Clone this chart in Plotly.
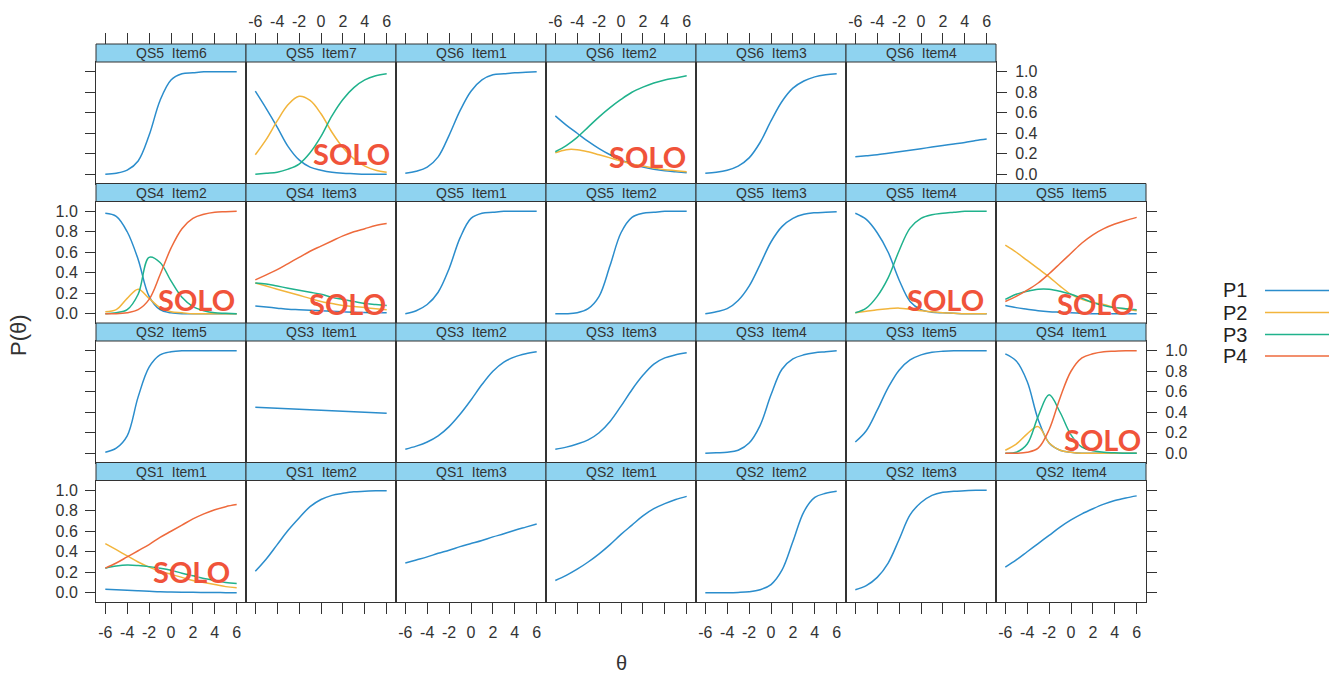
import plotly.graph_objects as go

# ---- item trace lines: probability of each category over theta ----
theta = [-6, -5, -4, -3, -2, -1, 0, 1, 2, 3, 4, 5, 6]
x_ticks = [-6, -4, -2, 0, 2, 4, 6]
x_tick_text = ["-6", "-4", "-2", "0", "2", "4", "6"]
y_ticks = [0.0, 0.2, 0.4, 0.6, 0.8, 1.0]
y_tick_text = ["0.0", "0.2", "0.4", "0.6", "0.8", "1.0"]
categories = ["P1", "P2", "P3", "P4"]

# row 1
qs5_item6 = [0.0, 0.01, 0.04, 0.13, 0.38, 0.72, 0.92, 0.98, 0.99, 1.0, 1.0, 1.0, 1.0]
qs5_item7_p1 = [0.81, 0.64, 0.46, 0.27, 0.14, 0.07, 0.04, 0.02, 0.01, 0.005, 0.0, 0.0, 0.0]
qs5_item7_p2 = [0.19, 0.34, 0.52, 0.68, 0.76, 0.72, 0.59, 0.41, 0.26, 0.15, 0.08, 0.04, 0.02]
qs5_item7_p3 = [0.0, 0.01, 0.02, 0.05, 0.10, 0.21, 0.37, 0.57, 0.73, 0.845, 0.92, 0.96, 0.98]
qs6_item1 = [0.01, 0.03, 0.07, 0.17, 0.38, 0.62, 0.81, 0.92, 0.97, 0.98, 0.99, 0.995, 1.0]
qs6_item2_p1 = [0.57, 0.48, 0.40, 0.32, 0.25, 0.19, 0.14, 0.10, 0.07, 0.05, 0.035, 0.025, 0.015]
qs6_item2_p2 = [0.21, 0.24, 0.24, 0.22, 0.19, 0.16, 0.13, 0.10, 0.08, 0.06, 0.045, 0.035, 0.025]
qs6_item2_p3 = [0.22, 0.28, 0.36, 0.46, 0.56, 0.65, 0.73, 0.80, 0.85, 0.89, 0.92, 0.94, 0.96]
qs6_item3 = [0.01, 0.02, 0.04, 0.08, 0.16, 0.31, 0.52, 0.71, 0.84, 0.91, 0.95, 0.97, 0.98]
qs6_item4 = [0.17, 0.18, 0.19, 0.205, 0.22, 0.235, 0.25, 0.265, 0.28, 0.295, 0.31, 0.33, 0.345]

# row 2
qs4_item2_p1 = [0.98, 0.95, 0.80, 0.53, 0.17, 0.04, 0.01, 0.0, 0.0, 0.0, 0.0, 0.0, 0.0]
qs4_item2_p2 = [0.02, 0.04, 0.15, 0.24, 0.15, 0.06, 0.02, 0.01, 0.0, 0.0, 0.0, 0.0, 0.0]
qs4_item2_p3 = [0.0, 0.01, 0.04, 0.19, 0.55, 0.50, 0.32, 0.16, 0.07, 0.03, 0.01, 0.005, 0.0]
qs4_item2_p4 = [0.0, 0.0, 0.01, 0.04, 0.14, 0.38, 0.64, 0.83, 0.93, 0.97, 0.99, 0.995, 1.0]
qs4_item3_p1 = [0.075, 0.065, 0.055, 0.045, 0.04, 0.035, 0.03, 0.025, 0.02, 0.015, 0.012, 0.01, 0.01]
qs4_item3_p2 = [0.30, 0.27, 0.24, 0.21, 0.18, 0.15, 0.12, 0.10, 0.08, 0.07, 0.06, 0.05, 0.04]
qs4_item3_p3 = [0.30, 0.29, 0.27, 0.25, 0.23, 0.21, 0.19, 0.16, 0.14, 0.12, 0.10, 0.09, 0.08]
qs4_item3_p4 = [0.33, 0.38, 0.43, 0.49, 0.55, 0.61, 0.66, 0.71, 0.76, 0.80, 0.83, 0.86, 0.88]
qs5_item1 = [0.0, 0.03, 0.09, 0.21, 0.44, 0.74, 0.93, 0.98, 0.99, 1.0, 1.0, 1.0, 1.0]
qs5_item2 = [0.0, 0.0, 0.01, 0.05, 0.17, 0.47, 0.79, 0.94, 0.98, 0.99, 1.0, 1.0, 1.0]
qs5_item3 = [0.0, 0.02, 0.05, 0.13, 0.27, 0.48, 0.70, 0.85, 0.93, 0.97, 0.985, 0.99, 0.995]
qs5_item4_p1 = [0.98, 0.92, 0.79, 0.60, 0.33, 0.12, 0.04, 0.015, 0.01, 0.005, 0.0, 0.0, 0.0]
qs5_item4_p2 = [0.01, 0.025, 0.04, 0.05, 0.055, 0.045, 0.03, 0.02, 0.01, 0.005, 0.0, 0.0, 0.0]
qs5_item4_p3 = [0.01, 0.055, 0.17, 0.35, 0.615, 0.835, 0.93, 0.965, 0.98, 0.99, 1.0, 1.0, 1.0]
qs5_item5_p1 = [0.08, 0.06, 0.045, 0.03, 0.02, 0.015, 0.01, 0.005, 0.0, 0.0, 0.0, 0.0, 0.0]
qs5_item5_p2 = [0.67, 0.60, 0.52, 0.44, 0.36, 0.27, 0.19, 0.14, 0.11, 0.09, 0.06, 0.045, 0.03]
qs5_item5_p3 = [0.14, 0.19, 0.22, 0.24, 0.24, 0.22, 0.19, 0.15, 0.11, 0.08, 0.06, 0.05, 0.04]
qs5_item5_p4 = [0.12, 0.17, 0.23, 0.30, 0.39, 0.49, 0.59, 0.69, 0.77, 0.83, 0.875, 0.91, 0.94]

# row 3
qs2_item5 = [0.01, 0.05, 0.17, 0.55, 0.84, 0.96, 0.99, 1.0, 1.0, 1.0, 1.0, 1.0, 1.0]
qs3_item1 = [0.45, 0.445, 0.44, 0.435, 0.43, 0.425, 0.42, 0.415, 0.41, 0.405, 0.40, 0.395, 0.39]
qs3_item2 = [0.04, 0.07, 0.11, 0.17, 0.26, 0.38, 0.52, 0.67, 0.80, 0.89, 0.94, 0.97, 0.99]
qs3_item3 = [0.04, 0.06, 0.09, 0.13, 0.20, 0.31, 0.46, 0.62, 0.76, 0.87, 0.93, 0.96, 0.98]
qs3_item4 = [0.0, 0.005, 0.01, 0.03, 0.10, 0.27, 0.57, 0.82, 0.92, 0.96, 0.98, 0.99, 1.0]
qs3_item5 = [0.11, 0.22, 0.42, 0.64, 0.81, 0.91, 0.96, 0.985, 0.995, 1.0, 1.0, 1.0, 1.0]
qs4_item1_p1 = [0.97, 0.90, 0.70, 0.33, 0.10, 0.03, 0.01, 0.0, 0.0, 0.0, 0.0, 0.0, 0.0]
qs4_item1_p2 = [0.03, 0.09, 0.19, 0.26, 0.10, 0.03, 0.01, 0.0, 0.0, 0.0, 0.0, 0.0, 0.0]
qs4_item1_p3 = [0.0, 0.01, 0.09, 0.36, 0.57, 0.40, 0.18, 0.06, 0.025, 0.01, 0.005, 0.0, 0.0]
qs4_item1_p4 = [0.0, 0.0, 0.01, 0.05, 0.23, 0.54, 0.80, 0.93, 0.97, 0.99, 0.995, 1.0, 1.0]

# row 4
qs1_item1_p1 = [0.035, 0.03, 0.025, 0.02, 0.015, 0.01, 0.008, 0.006, 0.004, 0.003, 0.002, 0.001, 0.001]
qs1_item1_p2 = [0.48, 0.42, 0.36, 0.30, 0.25, 0.21, 0.18, 0.15, 0.12, 0.10, 0.08, 0.06, 0.05]
qs1_item1_p3 = [0.24, 0.26, 0.27, 0.265, 0.255, 0.24, 0.22, 0.19, 0.165, 0.14, 0.12, 0.10, 0.09]
qs1_item1_p4 = [0.24, 0.29, 0.35, 0.41, 0.47, 0.54, 0.60, 0.66, 0.72, 0.77, 0.81, 0.84, 0.86]
qs1_item2 = [0.21, 0.33, 0.47, 0.61, 0.73, 0.84, 0.91, 0.95, 0.97, 0.985, 0.99, 0.995, 0.995]
qs1_item3 = [0.29, 0.32, 0.35, 0.385, 0.415, 0.45, 0.48, 0.51, 0.545, 0.575, 0.61, 0.64, 0.67]
qs2_item1 = [0.12, 0.17, 0.23, 0.30, 0.38, 0.47, 0.57, 0.66, 0.75, 0.82, 0.87, 0.91, 0.94]
qs2_item2 = [0.0, 0.0, 0.0, 0.003, 0.01, 0.03, 0.08, 0.22, 0.50, 0.79, 0.93, 0.97, 0.99]
qs2_item3 = [0.03, 0.07, 0.15, 0.29, 0.52, 0.76, 0.88, 0.95, 0.98, 0.99, 0.995, 1.0, 1.0]
qs2_item4 = [0.25, 0.32, 0.40, 0.48, 0.56, 0.64, 0.71, 0.77, 0.82, 0.865, 0.90, 0.925, 0.945]

# panel arrangement (top row first), lattice-style
panel_rows = [
    ["QS5  Item6", "QS5  Item7", "QS6  Item1", "QS6  Item2", "QS6  Item3", "QS6  Item4", None],
    ["QS4  Item2", "QS4  Item3", "QS5  Item1", "QS5  Item2", "QS5  Item3", "QS5  Item4", "QS5  Item5"],
    ["QS2  Item5", "QS3  Item1", "QS3  Item2", "QS3  Item3", "QS3  Item4", "QS3  Item5", "QS4  Item1"],
    ["QS1  Item1", "QS1  Item2", "QS1  Item3", "QS2  Item1", "QS2  Item2", "QS2  Item3", "QS2  Item4"],
]

curves = {
    "QS5  Item6": [qs5_item6],
    "QS5  Item7": [qs5_item7_p1, qs5_item7_p2, qs5_item7_p3],
    "QS6  Item1": [qs6_item1],
    "QS6  Item2": [qs6_item2_p1, qs6_item2_p2, qs6_item2_p3],
    "QS6  Item3": [qs6_item3],
    "QS6  Item4": [qs6_item4],
    "QS4  Item2": [qs4_item2_p1, qs4_item2_p2, qs4_item2_p3, qs4_item2_p4],
    "QS4  Item3": [qs4_item3_p1, qs4_item3_p2, qs4_item3_p3, qs4_item3_p4],
    "QS5  Item1": [qs5_item1],
    "QS5  Item2": [qs5_item2],
    "QS5  Item3": [qs5_item3],
    "QS5  Item4": [qs5_item4_p1, qs5_item4_p2, qs5_item4_p3],
    "QS5  Item5": [qs5_item5_p1, qs5_item5_p2, qs5_item5_p3, qs5_item5_p4],
    "QS2  Item5": [qs2_item5],
    "QS3  Item1": [qs3_item1],
    "QS3  Item2": [qs3_item2],
    "QS3  Item3": [qs3_item3],
    "QS3  Item4": [qs3_item4],
    "QS3  Item5": [qs3_item5],
    "QS4  Item1": [qs4_item1_p1, qs4_item1_p2, qs4_item1_p3, qs4_item1_p4],
    "QS1  Item1": [qs1_item1_p1, qs1_item1_p2, qs1_item1_p3, qs1_item1_p4],
    "QS1  Item2": [qs1_item2],
    "QS1  Item3": [qs1_item3],
    "QS2  Item1": [qs2_item1],
    "QS2  Item2": [qs2_item2],
    "QS2  Item3": [qs2_item3],
    "QS2  Item4": [qs2_item4],
}

# "SOLO" tag placement (theta, probability) inside the tagged panels
solo_tags = {
    "QS5  Item7": (2.75, 0.20),
    "QS6  Item2": (2.45, 0.17),
    "QS4  Item2": (2.35, 0.14),
    "QS4  Item3": (2.45, 0.10),
    "QS5  Item4": (2.2, 0.14),
    "QS5  Item5": (2.2, 0.10),
    "QS4  Item1": (2.9, 0.13),
    "QS1  Item1": (1.85, 0.21),
}

# ---- styling ----
colors = {"P1": "#2b8dcc", "P2": "#f2b53c", "P3": "#20b28c", "P4": "#ee6a3c"}
strip_fill = "#8fd3f0"
frame = "#333333"
font_family = "Liberation Sans, Arial, sans-serif"
W, H = 1329, 675
LEFT, COLW = 96, 150
TOP, ROWH, STRIP = 44, 139.5, 18
X_RANGE = [-6.85, 6.85]
Y_RANGE = [-0.09, 1.095]


def px(x):
    return x / W


def py(y):
    return 1 - y / H


fig = go.Figure()
layout = {}
shapes = []
annotations = []
tick_font = dict(family=font_family, size=16, color="#333333")
n_rows = len(panel_rows)
k = 0
last_axis = {}
top_axes = []

for r, row in enumerate(panel_rows):
    for c, name in enumerate(row):
        if name is None:
            continue
        k += 1
        sfx = "" if k == 1 else str(k)
        x0, x1 = LEFT + COLW * c, LEFT + COLW * (c + 1)
        top = TOP + ROWH * r
        xa = dict(domain=[px(x0), px(x1)], range=X_RANGE, anchor=f"y{sfx}",
                  showgrid=False, zeroline=False, showline=True, mirror=True,
                  linecolor=frame, linewidth=1, tickvals=x_ticks, ticktext=x_tick_text,
                  ticks="", showticklabels=False, tickfont=tick_font, fixedrange=True)
        ya = dict(domain=[py(top + ROWH), py(top + STRIP)], range=Y_RANGE,
                  anchor=f"x{sfx}", showgrid=False, zeroline=False, showline=True,
                  mirror=True, linecolor=frame, linewidth=1, tickvals=y_ticks,
                  ticktext=y_tick_text, ticks="", showticklabels=False,
                  tickfont=tick_font, fixedrange=True)
        if r == 0:
            top_axes.append((sfx, c))
        if r == n_rows - 1:
            xa.update(side="bottom", ticks="outside", ticklen=11, tickcolor=frame,
                      showticklabels=(c % 2 == 0), ticklabelstandoff=5)
        if c == 0:
            ya.update(side="left", ticks="outside", ticklen=10, tickcolor=frame,
                      showticklabels=(r % 2 == 1), ticklabelstandoff=4)
        layout[f"xaxis{sfx}"] = xa
        layout[f"yaxis{sfx}"] = ya
        last_axis[r] = sfx

        # strip header
        shapes.append(dict(type="rect", xref="paper", yref="paper",
                           x0=px(x0), x1=px(x1), y0=py(top + STRIP), y1=py(top),
                           fillcolor=strip_fill, line=dict(color=frame, width=1)))
        annotations.append(dict(xref="paper", yref="paper", x=px((x0 + x1) / 2),
                                y=py(top + STRIP / 2), text=name, showarrow=False,
                                font=dict(family=font_family, size=14, color="#333333"),
                                xanchor="center", yanchor="middle"))

        series = curves[name]
        for i, vals in enumerate(series):
            fig.add_trace(go.Scatter(
                x=theta, y=vals, mode="lines",
                line=dict(color=colors[categories[i]], width=1.5, shape="spline", smoothing=1.0),
                xaxis=f"x{sfx}", yaxis=f"y{sfx}", showlegend=False, hoverinfo="skip"))

        if name in solo_tags:
            tx, ty = solo_tags[name]
            annotations.append(dict(xref=f"x{sfx}", yref=f"y{sfx}", x=tx, y=ty,
                                    text="<b>SOLO</b>", showarrow=False,
                                    font=dict(family="Lato, Open Sans, sans-serif", size=29,
                                              color="#f0533a"),
                                    xanchor="center", yanchor="middle"))

n_axes = k

# top tick axes sit above the strip headers of the first row
for sfx, c in top_axes:
    n_axes += 1
    ax = str(n_axes)
    layout[f"xaxis{ax}"] = dict(overlaying=f"x{sfx}", anchor="free", position=py(TOP),
                                side="top", range=X_RANGE, tickvals=x_ticks,
                                ticktext=x_tick_text, ticks="outside", ticklen=11,
                                tickcolor=frame, showticklabels=(c % 2 == 1),
                                tickfont=tick_font, ticklabelstandoff=0,
                                showgrid=False, zeroline=False, showline=False,
                                fixedrange=True)
    fig.add_trace(go.Scatter(x=[None], y=[None], xaxis=f"x{ax}", yaxis=f"y{sfx}",
                             showlegend=False, hoverinfo="skip"))

# right-hand tick axes on the last panel of every row
for r in range(n_rows):
    sfx = last_axis[r]
    n_axes += 1
    ax = str(n_axes)
    layout[f"yaxis{ax}"] = dict(overlaying=f"y{sfx}", anchor=f"x{sfx}", side="right",
                                range=Y_RANGE, tickvals=y_ticks, ticktext=y_tick_text,
                                ticks="outside", ticklen=10, tickcolor=frame,
                                showticklabels=(r % 2 == 0), tickfont=tick_font,
                                ticklabelstandoff=5, showgrid=False, zeroline=False,
                                showline=False, fixedrange=True)
    fig.add_trace(go.Scatter(x=[None], y=[None], xaxis=f"x{sfx}", yaxis=f"y{ax}",
                             showlegend=False, hoverinfo="skip"))

# key
legend_y = [290.5, 312.5, 334.5, 356]
for cat, ly in zip(categories, legend_y):
    annotations.append(dict(xref="paper", yref="paper", x=px(1221), y=py(ly), text=cat,
                            showarrow=False, xanchor="left", yanchor="middle",
                            font=dict(family=font_family, size=20, color="#222222")))
    shapes.append(dict(type="line", xref="paper", yref="paper", x0=px(1265), x1=px(1329),
                       y0=py(ly), y1=py(ly), line=dict(color=colors[cat], width=1.3)))

# axis titles
annotations.append(dict(xref="paper", yref="paper", x=px(19), y=py(335), text="P(θ)",
                        textangle=-90, showarrow=False, xanchor="center", yanchor="middle",
                        font=dict(family=font_family, size=22, color="#333333")))
annotations.append(dict(xref="paper", yref="paper", x=px(621), y=py(663), text="θ",
                        showarrow=False, xanchor="center", yanchor="middle",
                        font=dict(family=font_family, size=20, color="#333333")))

fig.update_layout(**layout)
fig.update_layout(width=W, height=H, margin=dict(l=0, r=0, t=0, b=0),
                  paper_bgcolor="white", plot_bgcolor="white", showlegend=False,
                  shapes=shapes, annotations=annotations)
fig.write_html("out.html")
